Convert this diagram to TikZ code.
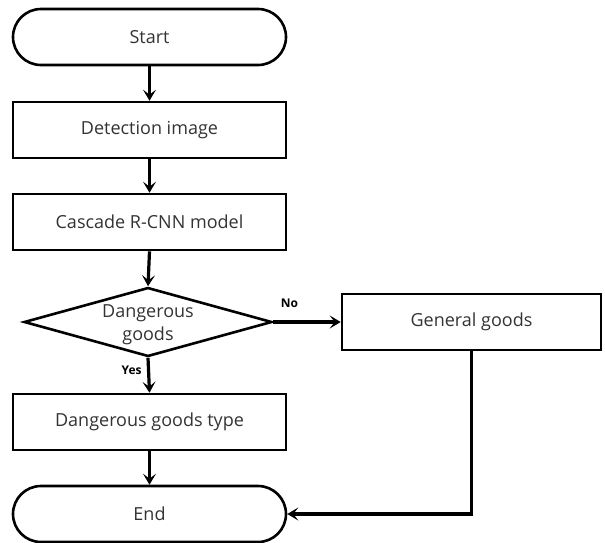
\documentclass[tikz,border=0pt]{standalone}
\usepackage{fontspec}
\setmainfont{Open Sans}
\usetikzlibrary{shapes.geometric,arrows.meta}
\begin{document}
\begin{tikzpicture}[x=1pt,y=-1pt,
  font=\fontsize{18}{23}\selectfont,
  txt/.style={text=black!80},
  procbox/.style={draw, line width=2.6pt, minimum width=273pt, minimum height=56pt, inner sep=0pt, txt},
  term/.style={procbox, rounded corners=28pt},
  decide/.style={diamond, draw, line width=2.6pt, minimum width=248pt, minimum height=69pt, inner sep=0pt},
  flow/.style={line width=3.2pt, -{Stealth[length=11pt,width=13pt,inset=5pt]}},
  tag/.style={font=\fontsize{12}{14}\selectfont\bfseries, text=black}]
\useasboundingbox (0,0) rectangle (605,542);
\node[term] (start) at (149.5,37) {Start};
\node[procbox] (det) at (149.5,130) {Detection image};
\node[procbox] (cas) at (149.5,222) {Cascade R-CNN model};
\node[decide] (dg) at (148,322) {};
\node[txt, align=center] (dgt) at (148,325) {Dangerous\\goods};
\node[procbox, minimum width=259pt] (gen) at (471.5,322) {General goods};
\node[procbox] (type) at (149.5,422) {Dangerous goods type};
\node[term] (end) at (149.5,514) {End};
\coordinate (turn) at (gen.south |- end.east);
\draw[flow] (start) -- (det);
\draw[flow] (det) -- (cas);
\draw[flow] (cas.south) -- (dg.north);
\draw[flow] (dg.east) -- node[tag, above=9pt, pos=0.24] (no) {No} (gen.west);
\draw[flow] (dg.south) -- node[tag, left=2pt, pos=0.35] (yes) {Yes} (type.north);
\draw[flow] (type) -- (end);
\draw[flow] (gen.south) -- (turn) -- (end.east);
\end{tikzpicture}
\end{document}
